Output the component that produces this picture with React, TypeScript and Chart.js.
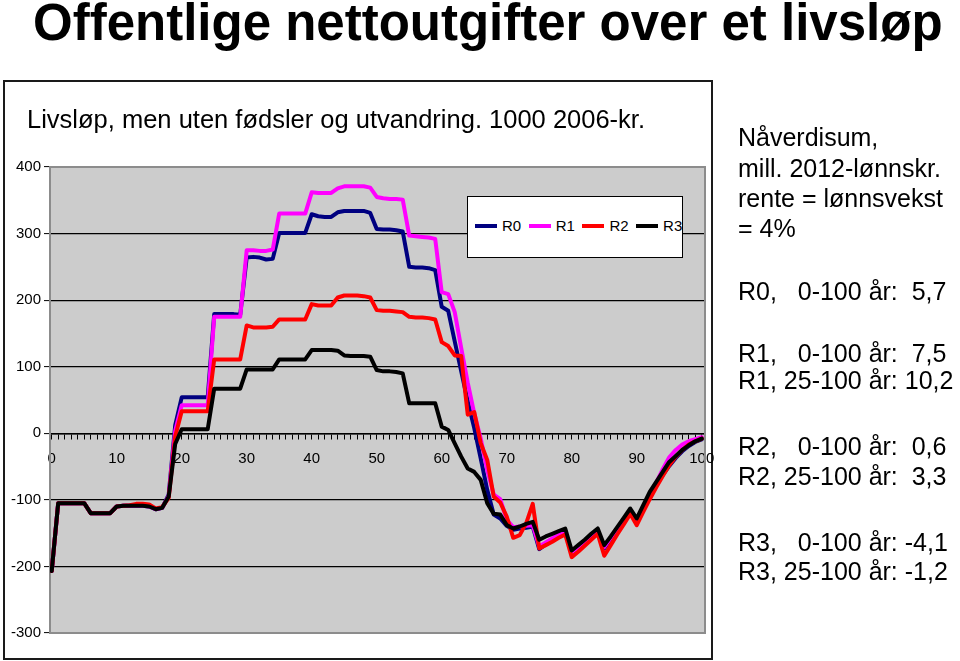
import React, { useEffect, useRef } from "react";
import { Chart, registerables } from "chart.js";

Chart.register(...registerables);

// ---------- data ----------
const ages = [
  0, 1, 2, 3, 4, 5, 6, 7, 8, 9, 10, 11, 12, 13, 14, 15, 16, 17, 18, 19,
  20, 21, 22, 23, 24, 25, 26, 27, 28, 29, 30, 31, 32, 33, 34, 35, 36, 37, 38, 39,
  40, 41, 42, 43, 44, 45, 46, 47, 48, 49, 50, 51, 52, 53, 54, 55, 56, 57, 58, 59,
  60, 61, 62, 63, 64, 65, 66, 67, 68, 69, 70, 71, 72, 73, 74, 75, 76, 77, 78, 79,
  80, 81, 82, 83, 84, 85, 86, 87, 88, 89, 90, 91, 92, 93, 94, 95, 96, 97, 98, 99, 100,
];

const r0 = [
  -207, -105, -105, -105, -105, -105, -120, -120, -120, -120, -110, -109, -109, -109, -109, -110, -114, -112,
  -92, 12, 54, 54, 54, 54, 54, 179, 179, 179, 179, 178,
  264, 265, 264, 261, 262, 301, 301, 301, 301, 301,
  329, 326, 325, 325, 332, 334, 334, 334, 334, 331,
  307, 306, 306, 305, 303, 250, 249, 249, 248, 245,
  190, 184, 138, 93, 48, 8, -38, -85, -122, -128,
  -139, -145, -143, -142, -140, -174, -167, -161, -154, -148,
  -181, -173, -165, -157, -149, -173, -159, -145, -131, -117,
  -131, -113, -94, -78, -63, -49, -37, -27, -19, -13, -9,
];

const r1 = [
  -207, -105, -105, -105, -105, -105, -120, -120, -120, -120, -110, -109, -109, -109, -109, -110, -114, -112,
  -94, 4, 42, 42, 42, 42, 42, 175, 175, 175, 175, 175,
  275, 275, 274, 274, 276, 330, 330, 330, 330, 330,
  362, 361, 361, 361, 368, 371, 371, 371, 371, 369,
  355, 353, 352, 352, 351, 297, 296, 295, 294, 292,
  212, 209, 182, 128, 76, 30, -8, -55, -92, -99,
  -130, -141, -140, -139, -138, -170, -164, -158, -152, -147,
  -179, -171, -163, -155, -147, -171, -157, -143, -129, -116,
  -129, -111, -92, -74, -54, -36, -25, -17, -12, -9, -6,
];

const r2 = [
  -207, -105, -105, -105, -105, -105, -120, -120, -120, -120, -110, -109, -108, -106, -106, -107, -113, -111,
  -97, -5, 33, 33, 33, 33, 33, 111, 111, 111, 111, 111,
  162, 159, 159, 159, 160, 171, 171, 171, 171, 171,
  194, 192, 192, 192, 204, 207, 207, 207, 206, 204,
  185, 184, 184, 183, 182, 175, 174, 174, 173, 171,
  137, 131, 117, 116, 28, 32, -15, -40, -95, -104,
  -125, -157, -153, -135, -106, -173, -168, -163, -157, -152,
  -186, -178, -169, -160, -151, -184, -168, -152, -137, -121,
  -138, -118, -99, -81, -64, -48, -35, -25, -17, -12, -8,
];

const r3 = [
  -207, -105, -105, -105, -105, -105, -120, -120, -120, -120, -110, -109, -109, -109, -109, -110, -114, -112,
  -95, -16, 6, 6, 6, 6, 6, 67, 67, 67, 67, 67,
  96, 96, 96, 96, 96, 111, 111, 111, 111, 111,
  125, 125, 125, 125, 124, 117, 116, 116, 116, 115,
  95, 93, 93, 92, 90, 45, 45, 45, 45, 45,
  10, 5, -15, -35, -53, -58, -70, -105, -121, -122,
  -138, -143, -140, -136, -133, -160, -155, -151, -147, -143,
  -176, -168, -160, -151, -143, -168, -155, -141, -127, -113,
  -128, -108, -88, -73, -58, -43, -34, -25, -18, -12, -8,
];

const seriesNames = ["R0", "R1", "R2", "R3"];
const seriesColors = ["#000080", "#ff00ff", "#ff0000", "#000000"];
const seriesValues = [r0, r1, r2, r3];

const yTickValues = [-300, -200, -100, 0, 100, 200, 300, 400];
const xLabelValues = [0, 10, 20, 30, 40, 50, 60, 70, 80, 90, 100];

const chartTitle = "Offentlige nettoutgifter over et livsløp";
const subtitle = "Livsløp, men uten fødsler og utvandring. 1000 2006-kr.";
const noteLines = [
  "Nåverdisum,",
  "mill. 2012-lønnskr.",
  "rente = lønnsvekst",
  "= 4%",
  "R0,   0-100 år:  5,7",
  "R1,   0-100 år:  7,5",
  "R1, 25-100 år: 10,2",
  "R2,   0-100 år:  0,6",
  "R2, 25-100 år:  3,3",
  "R3,   0-100 år: -4,1",
  "R3, 25-100 år: -1,2",
];
const noteCenters = [137, 168, 198, 228, 291, 353, 380, 446, 476, 542, 571];

// ---------- styling ----------
const SANS = "'Liberation Sans', Arial, Helvetica, sans-serif";
const NARROW = "'Liberation Sans Narrow', 'Arial Narrow', 'Liberation Sans', Arial, sans-serif";

const plotFrame = {
  id: "plotFrame",
  beforeDraw(chart: any) {
    const { ctx, chartArea: a } = chart;
    ctx.save();
    ctx.fillStyle = "#cccccc";
    ctx.fillRect(a.left, a.top, a.right - a.left, a.bottom - a.top);
    ctx.restore();
  },
  beforeDatasetsDraw(chart: any) {
    const { ctx, chartArea: a } = chart;
    ctx.save();
    ctx.strokeStyle = "#8c8c8c";
    ctx.lineWidth = 2;
    ctx.strokeRect(a.left, a.top, a.right - a.left, a.bottom - a.top);
    ctx.restore();
  },
};

export default function App() {
  const canvasRef = useRef<HTMLCanvasElement | null>(null);

  useEffect(() => {
    const canvas = canvasRef.current;
    if (!canvas) return;
    const datasets = seriesNames.map((name, i) => ({
      label: name,
      data: ages.map((a, k) => ({ x: a, y: seriesValues[i][k] })),
      borderColor: seriesColors[i],
      backgroundColor: seriesColors[i],
      borderWidth: 4,
      pointRadius: 0,
      pointHoverRadius: 0,
      tension: 0,
      fill: false,
      borderJoinStyle: "round" as const,
      borderCapStyle: "round" as const,
      order: seriesNames.length - 1 - i,
    }));

    const chart = new Chart(canvas, {
      type: "line",
      data: { datasets },
      plugins: [plotFrame],
      options: {
        animation: false,
        responsive: false,
        devicePixelRatio: 1,
        layout: { padding: { left: 0, top: 167, right: 255, bottom: 28 } },
        plugins: {
          legend: { display: false },
          tooltip: { enabled: false },
          title: { display: false },
        },
        scales: {
          x: {
            type: "linear",
            min: -0.26,
            max: 100.5,
            position: { y: 0 } as any,
            afterBuildTicks: (s: any) => {
              s.ticks = ages.map((v) => ({ value: v }));
            },
            grid: {
              drawOnChartArea: false,
              drawTicks: true,
              tickLength: 5,
              tickColor: "#000",
              tickWidth: 1,
            },
            border: { display: true, color: "#000", width: 1.5 },
            ticks: {
              autoSkip: false,
              maxRotation: 0,
              minRotation: 0,
              padding: 12,
              color: "#000",
              font: { family: NARROW, size: 15 },
              callback: (v: any) => (xLabelValues.includes(Number(v)) ? String(v) : ""),
            },
          },
          y: {
            type: "linear",
            position: "left",
            min: -300,
            max: 400,
            afterBuildTicks: (s: any) => {
              s.ticks = yTickValues.map((v) => ({ value: v }));
            },
            afterFit: (s: any) => {
              s.width = 50;
            },
            grid: {
              color: (c: any) =>
                c.tick && (c.tick.value === 400 || c.tick.value === -300) ? "rgba(0,0,0,0)" : "#000",
              lineWidth: 1.2,
              drawTicks: true,
              tickLength: 6,
              tickColor: "#000",
              tickWidth: 1,
            },
            border: { display: true, color: "#8c8c8c", width: 2 },
            ticks: {
              padding: 3,
              color: "#000",
              font: { family: NARROW, size: 15 },
              callback: (v: any) => String(v),
            },
          },
        },
      },
    });
    return () => chart.destroy();
  }, []);

  return (
    <div
      style={{
        position: "absolute",
        left: 0,
        top: 0,
        width: 960,
        height: 661,
        background: "#fff",
        overflow: "hidden",
        fontFamily: SANS,
        color: "#000",
      }}
    >
      <div
        style={{
          position: "absolute",
          left: 33,
          top: -3,
          fontSize: 51,
          lineHeight: "51px",
          fontWeight: "bold",
          whiteSpace: "nowrap",
        }}
      >
        {chartTitle}
      </div>
      <div
        style={{
          position: "absolute",
          left: 3,
          top: 80,
          width: 710,
          height: 580,
          border: "2px solid #1a1a1a",
          boxSizing: "border-box",
        }}
      />
      <canvas
        ref={canvasRef}
        width={960}
        height={661}
        style={{ position: "absolute", left: 0, top: 0, width: 960, height: 661 }}
      />
      <div
        style={{
          position: "absolute",
          left: 27,
          top: 107,
          fontSize: 25.5,
          lineHeight: 1,
          whiteSpace: "nowrap",
        }}
      >
        {subtitle}
      </div>
      <div
        style={{
          position: "absolute",
          left: 467,
          top: 196,
          width: 216,
          height: 62,
          background: "#fff",
          border: "1.5px solid #000",
          boxSizing: "border-box",
        }}
      >
        {seriesNames.map((name, i) => (
          <div
            key={name}
            style={{ position: "absolute", left: 7 + i * 53.7, top: 0, height: "100%" }}
          >
            <div
              style={{
                position: "absolute",
                left: 0,
                top: 27,
                width: 22,
                height: 4,
                background: seriesColors[i],
              }}
            />
            <div
              style={{
                position: "absolute",
                left: 27,
                top: 20,
                fontFamily: NARROW,
                fontSize: 15,
                lineHeight: "18px",
                whiteSpace: "nowrap",
              }}
            >
              {name}
            </div>
          </div>
        ))}
      </div>
      {noteLines.map((line, i) => (
        <div
          key={i}
          style={{
            position: "absolute",
            left: 738,
            top: noteCenters[i] - 12,
            fontSize: 25,
            lineHeight: 1,
            whiteSpace: "pre",
          }}
        >
          {line}
        </div>
      ))}
    </div>
  );
}
